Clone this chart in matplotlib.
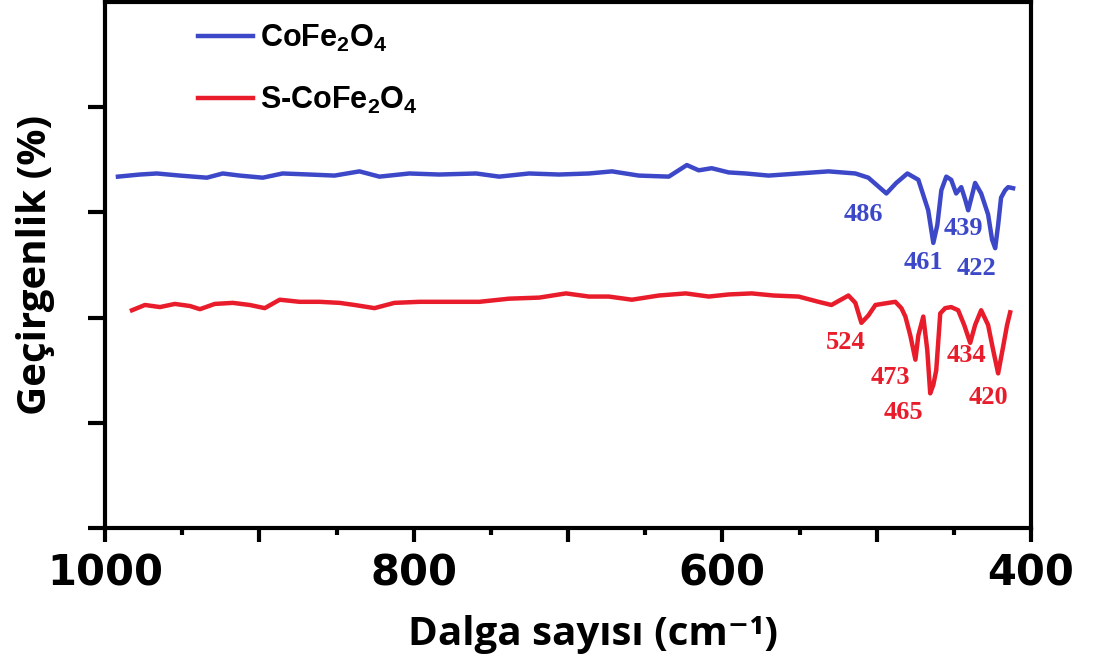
import numpy as np
import matplotlib.pyplot as plt
from matplotlib.ticker import MultipleLocator

plt.rcParams["mathtext.fontset"] = "custom"
plt.rcParams["mathtext.bf"] = "Liberation Sans:bold"
plt.rcParams["mathtext.rm"] = "Liberation Sans:bold"

# CoFe2O4 spektrumu (okunan degerler)
wn_blue = [991.6, 977.4, 966.4, 951.5, 934.0, 923.7, 912.7, 897.8, 884.9, 867.4,
           851.3, 835.1, 822.2, 802.8, 783.4, 759.5, 744.6, 725.2, 705.8, 686.4,
           671.5, 654.1, 634.7, 623.0, 615.3, 606.9, 595.9, 584.9, 570.0, 550.6,
           531.2, 513.8, 505.4, 493.7, 487.3, 480.1, 473.0, 466.6, 463.3, 460.7,
           458.1, 454.9, 451.7, 448.5, 445.2, 442.6, 440.7, 438.1, 436.2, 432.3,
           427.8, 425.2, 423.2, 421.3, 419.4, 416.8, 414.8, 411.6]
t_blue = [3.34, 3.36, 3.37, 3.35, 3.33, 3.37, 3.35, 3.33, 3.37, 3.36,
          3.35, 3.39, 3.34, 3.37, 3.36, 3.37, 3.34, 3.37, 3.36, 3.37,
          3.39, 3.35, 3.34, 3.45, 3.40, 3.42, 3.38, 3.37, 3.35, 3.37,
          3.39, 3.37, 3.33, 3.18, 3.28, 3.37, 3.31, 3.02, 2.71, 2.88,
          3.21, 3.34, 3.31, 3.18, 3.24, 3.12, 3.02, 3.17, 3.28, 3.18,
          2.98, 2.74, 2.66, 2.88, 3.14, 3.21, 3.24, 3.23]

# S-CoFe2O4 spektrumu
wn_red = [982.5, 974.1, 964.4, 954.7, 944.9, 938.5, 928.9, 917.2, 906.2, 896.5,
          886.8, 873.9, 860.9, 848.0, 838.3, 825.4, 812.5, 796.3, 776.9, 757.5,
          738.1, 718.7, 701.3, 686.4, 673.5, 658.6, 641.1, 623.7, 608.8, 595.9,
          581.0, 566.8, 550.6, 537.7, 529.3, 518.3, 513.8, 509.9, 505.4, 500.8,
          492.4, 487.9, 484.0, 481.4, 478.2, 474.9, 473.0, 469.8, 467.2, 465.3,
          463.3, 461.4, 458.8, 455.6, 451.7, 447.2, 443.3, 439.4, 436.2, 432.3,
          427.8, 424.5, 421.3, 418.1, 415.5, 413.5]
t_red = [2.07, 2.12, 2.10, 2.13, 2.11, 2.08, 2.13, 2.14, 2.12, 2.09,
         2.17, 2.15, 2.15, 2.14, 2.12, 2.09, 2.14, 2.15, 2.15, 2.15,
         2.18, 2.19, 2.23, 2.20, 2.20, 2.17, 2.21, 2.23, 2.20, 2.22,
         2.23, 2.21, 2.20, 2.15, 2.12, 2.21, 2.14, 1.95, 2.02, 2.12,
         2.14, 2.15, 2.09, 2.01, 1.83, 1.60, 1.83, 2.01, 1.69, 1.28,
         1.36, 1.50, 2.04, 2.09, 2.10, 2.07, 1.93, 1.76, 1.93, 2.07,
         1.93, 1.69, 1.47, 1.72, 1.93, 2.05]

# pik etiketleri: (metin, x, y)
blue_peaks = [("486", 508.6, 2.98), ("461", 469.8, 2.52),
              ("439", 443.9, 2.85), ("422", 435.5, 2.47)]
red_peaks = [("524", 520.2, 1.76), ("473", 491.1, 1.43), ("465", 482.7, 1.10),
             ("434", 442.0, 1.64), ("420", 427.8, 1.24)]

BLUE = "#3d48c8"
RED = "#e81c2a"

fig = plt.figure(figsize=(10.93, 6.68), dpi=100)
ax = fig.add_axes([105 / 1093, 1 - 528 / 668, 926 / 1093, 526 / 668])

ax.plot(wn_blue, t_blue, color=BLUE, lw=3.2, label=r"$\mathbf{CoFe_2O_4}$")
ax.plot(wn_red, t_red, color=RED, lw=3.2, label=r"$\mathbf{S\text{-}CoFe_2O_4}$")

for txt, x, y in blue_peaks:
    ax.text(x, y, txt, color=BLUE, fontsize=19, fontweight="bold",
            family="Liberation Serif", ha="center", va="center")
for txt, x, y in red_peaks:
    ax.text(x, y, txt, color=RED, fontsize=19, fontweight="bold",
            family="Liberation Serif", ha="center", va="center")

ax.set_xlim(1000, 400)
ax.set_ylim(0, 5)
ax.xaxis.set_major_locator(MultipleLocator(100))
ax.xaxis.set_minor_locator(MultipleLocator(50))
ax.set_xticks([1000, 900, 800, 700, 600, 500, 400])
ax.set_xticklabels(["1000", "", "800", "", "600", "", "400"])
ax.set_yticks([0, 1, 2, 3, 4])
ax.set_yticklabels([])
ax.tick_params(axis="x", which="major", length=10, width=3, labelsize=30, pad=8)
ax.tick_params(axis="x", which="minor", length=5, width=3)
ax.tick_params(axis="y", which="major", length=12, width=3)
for lab in ax.get_xticklabels():
    lab.set_fontweight("bold")
    lab.set_family("DejaVu Sans")
for sp in ax.spines.values():
    sp.set_linewidth(3)

ax.set_xlabel("Dalga sayısı (cm⁻¹)", fontsize=29, fontweight="bold",
              family=["Open Sans", "DejaVu Sans"])
ax.xaxis.set_label_coords(0.527, -0.165)
ax.set_ylabel("Geçirgenlik (%)", fontsize=29, fontweight="bold",
              family=["Open Sans", "DejaVu Sans"])
ax.yaxis.set_label_coords(-0.054, 0.5)

ax.legend(loc="upper left", bbox_to_anchor=(0.1, 0.96), frameon=False,
          fontsize=22, handlelength=1.8, handletextpad=0.25, labelspacing=1.0,
          borderpad=0, borderaxespad=0)

fig.savefig("out.png", dpi=100)
